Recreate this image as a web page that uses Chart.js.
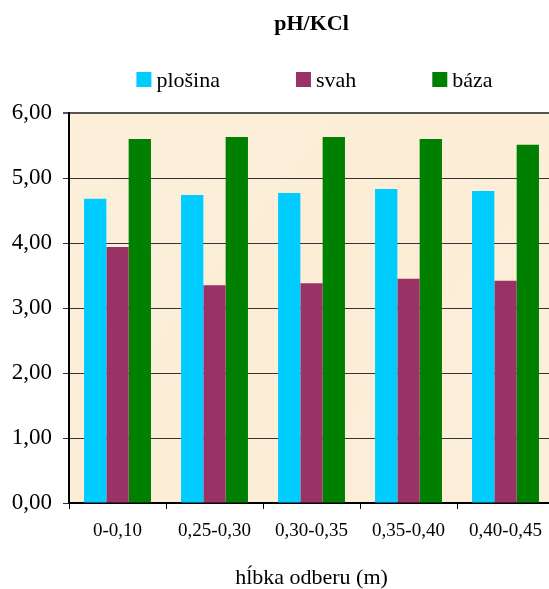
<!DOCTYPE html>
<html>
<head>
<meta charset="utf-8">
<script src="https://cdn.jsdelivr.net/npm/chart.js@4/dist/chart.umd.min.js"></script>
<style>
  html, body { margin: 0; padding: 0; background: #ffffff; overflow: hidden; }
  #frame { width: 549px; height: 589px; overflow: hidden; position: relative; }
  #c { display: block; }
</style>
</head>
<body>
<div id="frame"><canvas id="c" width="618" height="600"></canvas></div>
<script>
// Sampling depths (m)
const depths = ['0-0,10', '0,25-0,30', '0,30-0,35', '0,35-0,40', '0,40-0,45'];

// pH/KCl per landform position
const plosina = [4.68, 4.74, 4.77, 4.83, 4.80];
const svah    = [3.94, 3.35, 3.38, 3.45, 3.42];
const baza    = [5.60, 5.63, 5.63, 5.60, 5.51];

const seriesNames = ['plošina', 'svah', 'báza'];
const seriesColors = ['#00CCFF', '#993366', '#008000'];

const SERIF = '"Liberation Serif", "Times New Roman", serif';

// Parchment-coloured plot background
const plotBackground = {
  id: 'plotBackground',
  beforeDraw(chart) {
    const { ctx, chartArea: a } = chart;
    ctx.save();
    const g = ctx.createLinearGradient(a.left, a.top, a.right, a.bottom);
    g.addColorStop(0, '#FCF0DB');
    g.addColorStop(0.5, '#FBEDD6');
    g.addColorStop(1, '#FCEFDA');
    ctx.fillStyle = g;
    ctx.fillRect(a.left, a.top, a.right - a.left, a.bottom - a.top);
    ctx.restore();
  }
};

// Series key drawn as one row above the plot
const seriesKey = {
  id: 'seriesKey',
  afterDraw(chart) {
    const { ctx, chartArea: a } = chart;
    const box = 15, gap = 5, spacing = 76, baseline = 87;
    ctx.save();
    ctx.font = '22px ' + SERIF;
    const items = chart.data.datasets.map(ds => ({
      text: ds.label,
      color: ds.backgroundColor,
      w: box + gap + ctx.measureText(ds.label).width
    }));
    const total = items.reduce((s, it) => s + it.w, 0) + spacing * (items.length - 1);
    let x = (a.left + a.right) / 2 - total / 2 + 3;
    ctx.textBaseline = 'alphabetic';
    ctx.textAlign = 'left';
    items.forEach(it => {
      ctx.fillStyle = it.color;
      ctx.fillRect(x, baseline - box, box, box);
      ctx.fillStyle = '#000000';
      ctx.fillText(it.text, x + box + gap, baseline);
      x += it.w + spacing;
    });
    ctx.restore();
  }
};

const datasets = [plosina, svah, baza].map((vals, i) => ({
  label: seriesNames[i],
  data: vals,
  backgroundColor: seriesColors[i],
  borderWidth: 0,
  categoryPercentage: 0.69,
  barPercentage: 1.0
}));

new Chart(document.getElementById('c'), {
  type: 'bar',
  data: { labels: depths, datasets },
  plugins: [plotBackground, seriesKey],
  options: {
    responsive: false,
    animation: false,
    devicePixelRatio: 1,
    layout: { padding: { left: 0, right: 64, top: 0, bottom: 0 } },
    plugins: {
      legend: { display: false },
      tooltip: { enabled: false },
      title: {
        display: true,
        text: 'pH/KCl',
        fullSize: false,
        color: '#000000',
        font: { family: SERIF, size: 22, weight: 'bold' },
        padding: { top: 11.5, bottom: 75.1 }
      }
    },
    scales: {
      x: {
        afterFit(scale) { scale.height = 97; },
        grid: {
          display: true,
          drawOnChartArea: false,
          drawTicks: true,
          tickLength: 6,
          color: '#000000',
          offset: true
        },
        border: { display: true, color: '#000000', width: 2 },
        ticks: {
          color: '#000000',
          padding: 11,
          maxRotation: 0,
          autoSkip: false,
          font: { family: SERIF, size: 19 }
        },
        title: {
          display: true,
          text: 'hĺbka odberu (m)',
          color: '#000000',
          font: { family: SERIF, size: 22 },
          padding: { top: 0, bottom: 9 }
        }
      },
      y: {
        min: 0,
        max: 6,
        afterFit(scale) { scale.width = 69; },
        grid: {
          color: ctx => (ctx.tick && ctx.tick.value === 6 ? '#555555' : '#333333'),
          lineWidth: ctx => (ctx.tick && ctx.tick.value === 6 ? 2 : 1),
          tickLength: 6,
          drawTicks: true
        },
        border: { display: true, color: '#000000', width: 2 },
        ticks: {
          stepSize: 1,
          color: '#000000',
          padding: 11,
          font: { family: SERIF, size: 23 },
          callback: v => Number(v).toFixed(2).replace('.', ',')
        }
      }
    }
  }
});
</script>
</body>
</html>
